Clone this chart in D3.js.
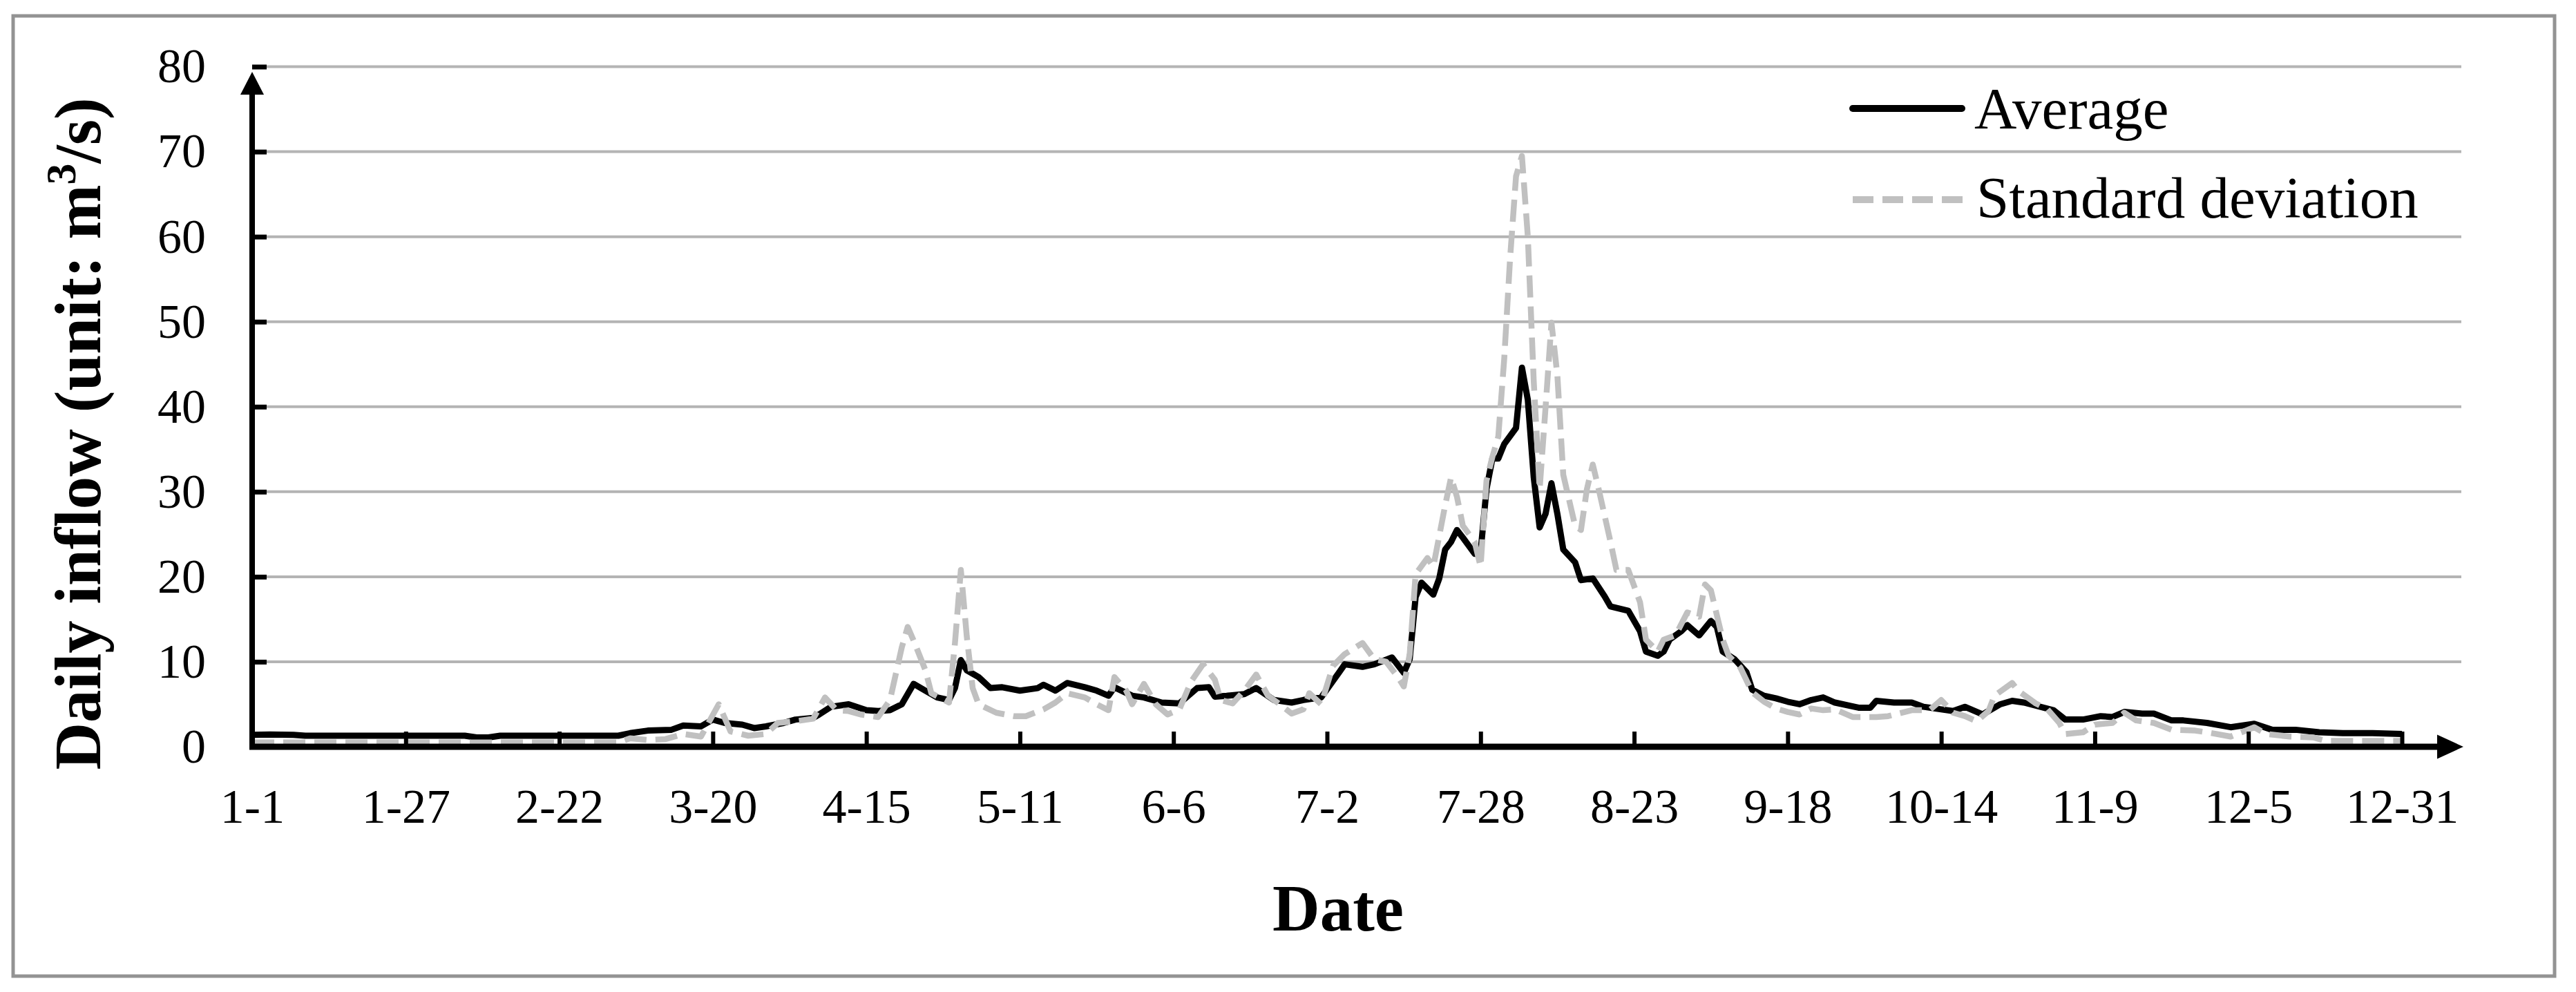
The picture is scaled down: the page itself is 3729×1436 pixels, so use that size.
<!DOCTYPE html>
<html>
<head>
<meta charset="utf-8">
<script src="https://cdn.jsdelivr.net/npm/d3@7"></script>
<style>
  html, body { margin: 0; padding: 0; background: #ffffff; }
  svg { display: block; }
  text { font-family: "Liberation Serif", "Times New Roman", serif; fill: #000; }
</style>
</head>
<body>
<svg id="chart" width="3729" height="1436"></svg>
<script>
// ---------------- DATA ----------------
const xTickDays   = [0, 26, 52, 78, 104, 130, 156, 182, 208, 234, 260, 286, 312, 338, 364];
const xTickLabels = ["1-1","1-27","2-22","3-20","4-15","5-11","6-6","7-2","7-28","8-23","9-18","10-14","11-9","12-5","12-31"];
const yTicks      = [0, 10, 20, 30, 40, 50, 60, 70, 80];

const avgDays = [0,3,7,9,20,30,36,38,40,42,50,56,62,64,67,71,73,76,78,80,83,85,87,90,92,95,96,98,101,104,106,108,110,112,114,116,118,119,120,121,123,125,127,130,133,134,136,138,141,143,145,146,149,151,154,157,160,162,163,165,168,170,173,176,178,181,184,185,188,190,193,195,196,197,198,200,201,202,203,204,205,207,208,209,210,211,212,214,215,216,217,218,219,220,221,222,224,225,227,229,230,233,235,236,238,239,240,242,243,245,247,248,249,251,253,254,256,258,260,262,264,266,268,272,274,275,278,281,283,286,288,290,293,296,298,300,305,307,310,313,315,317,320,322,325,327,331,335,339,342,346,350,354,359,364];
const avgValues = [1.4,1.45,1.4,1.3,1.3,1.3,1.3,1.1,1.1,1.3,1.3,1.3,1.3,1.6,1.9,2.0,2.5,2.4,3.2,2.8,2.6,2.2,2.4,2.8,3.2,3.4,3.8,4.7,5.0,4.3,4.2,4.3,5.0,7.4,6.6,5.8,5.5,6.9,10.2,9.0,8.2,6.9,7.0,6.6,6.9,7.3,6.6,7.5,7.0,6.6,6.0,7.0,6.0,5.8,5.2,5.1,6.9,7.0,5.9,6.0,6.2,6.9,5.5,5.2,5.5,5.8,8.7,9.7,9.4,9.7,10.5,8.7,10.3,17.6,19.3,17.9,19.8,23.2,24.1,25.5,24.6,22.7,22.9,30.3,33.9,33.9,35.6,37.5,44.6,40.8,31.7,25.8,27.4,31.0,27.4,23.2,21.7,19.6,19.8,17.7,16.5,16.0,13.6,11.2,10.7,11.2,12.6,13.6,14.3,13.1,14.8,14.1,11.2,10.3,8.8,6.7,6.0,5.7,5.3,5.0,5.5,5.8,5.2,4.6,4.6,5.4,5.2,5.2,4.7,4.4,4.2,4.7,3.8,5.0,5.4,5.2,4.3,3.2,3.2,3.6,3.5,4.1,3.9,3.9,3.1,3.1,2.8,2.3,2.7,2.0,2.0,1.7,1.6,1.6,1.5];

const sdDays = [0,10,20,30,40,50,62,64,67,70,73,76,79,81,84,87,89,92,95,97,99,101,103,106,108,110,111,112,114,115,118,119,120,121,122,123,126,129,131,134,136,138,141,143,145,146,148,149,151,153,155,157,159,161,163,164,166,168,170,172,174,176,178,179,181,183,185,188,190,192,194,195,196,197,199,200,202,203,204,205,207,208,209,210,211,212,213,214,215,216,217,218,219,220,221,222,224,225,226,227,228,230,231,233,235,236,238,239,241,243,245,246,247,249,250,252,254,256,258,260,262,264,266,268,271,275,277,281,284,286,288,290,292,294,295,298,299,302,304,306,307,310,312,315,317,319,322,325,329,331,335,339,341,345,349,351,355,359,364];
const sdValues = [0.5,0.5,0.5,0.5,0.5,0.5,0.5,1.0,0.8,0.9,1.5,1.2,5.0,1.8,1.3,1.5,2.8,3.0,3.3,5.8,4.3,4.2,3.8,3.5,5.5,11.7,14.1,12.5,9.0,6.3,5.2,12.2,20.8,13.0,6.9,5.0,4.0,3.6,3.6,4.4,5.2,6.3,5.8,5.0,4.3,8.2,6.6,5.0,7.4,5.0,3.8,4.4,7.7,9.7,7.9,5.5,5.1,6.6,8.5,6.0,5.0,3.9,4.4,6.3,5.0,9.5,10.9,12.2,10.3,10.0,8.2,7.1,10.9,20.3,22.2,21.2,28.4,31.7,29.4,26.0,24.1,21.2,31.3,34.1,36.5,45.6,57.5,67.1,69.5,60.0,43.0,30.3,39.9,49.9,43.7,32.0,26.0,25.5,30.3,33.2,30.3,24.1,20.8,20.8,17.0,12.6,11.2,12.6,13.1,15.8,15.3,19.1,18.4,12.6,10.7,9.3,6.4,5.3,4.5,4.1,3.8,4.5,4.3,4.4,3.5,3.5,3.6,4.3,4.3,5.5,4.0,3.6,3.0,4.2,6.0,7.5,6.6,5.1,4.4,2.8,1.5,1.7,2.6,2.8,4.0,3.1,2.8,2.0,1.9,1.7,1.2,2.3,1.5,1.2,1.1,0.7,0.7,0.7,0.7];

const seriesNames = ["Average", "Standard deviation"];

// ---------------- CHART ----------------
const svg = d3.select("#chart");
svg.append("rect").attr("x", 0).attr("y", 0).attr("width", 3729).attr("height", 1436).attr("fill", "#fff");

// outer frame
svg.append("rect")
  .attr("x", 19).attr("y", 23).attr("width", 3679).attr("height", 1390)
  .attr("fill", "none").attr("stroke", "#939393").attr("stroke-width", 5);

const x = d3.scaleLinear().domain([0, 364]).range([365, 3477]);
const y = d3.scaleLinear().domain([0, 80]).range([1081, 96.5]);
const gridEnd = 3563;

// gridlines
svg.append("g").selectAll("line")
  .data(yTicks.filter(v => v > 0))
  .join("line")
  .attr("x1", x(0)).attr("x2", gridEnd)
  .attr("y1", d => y(d)).attr("y2", d => y(d))
  .attr("stroke", "#b4b4b4").attr("stroke-width", 4);

// data lines
const avgData = avgDays.map((d, i) => [d, avgValues[i]]);
const sdData  = sdDays.map((d, i) => [d, sdValues[i]]);
const line = d3.line().x(d => x(d[0])).y(d => y(d[1]));

svg.append("path").datum(avgData)
  .attr("d", line).attr("fill", "none")
  .attr("stroke", "#000").attr("stroke-width", 9)
  .attr("stroke-linejoin", "round");

svg.append("path").datum(sdData)
  .attr("d", line).attr("fill", "none")
  .attr("stroke", "#c0c0c0").attr("stroke-width", 8.5)
  .attr("stroke-dasharray", "32,13")
  .attr("stroke-linejoin", "round");

// x axis
const xAxis = d3.axisBottom(x)
  .tickValues(xTickDays)
  .tickFormat((d, i) => xTickLabels[i])
  .tickSizeInner(-22).tickSizeOuter(0).tickPadding(60);
const gx = svg.append("g").attr("transform", `translate(0,${y(0)})`).call(xAxis);
gx.select(".domain").remove();
gx.selectAll(".tick line").attr("stroke", "#000").attr("stroke-width", 6);
gx.selectAll(".tick text").attr("font-size", 70).attr("font-family", "Liberation Serif");

// y axis
const yAxis = d3.axisLeft(y)
  .tickValues(yTicks)
  .tickFormat(d3.format("d"))
  .tickSizeInner(-21).tickSizeOuter(0).tickPadding(67);
const gy = svg.append("g").attr("transform", `translate(${x(0)},0)`).call(yAxis);
gy.select(".domain").remove();
gy.selectAll(".tick line").attr("stroke", "#000").attr("stroke-width", 7);
gy.selectAll(".tick text").attr("font-size", 70).attr("font-family", "Liberation Serif");

// axis lines with arrows
svg.append("line").attr("x1", x(0) - 4).attr("x2", 3532).attr("y1", y(0)).attr("y2", y(0))
  .attr("stroke", "#000").attr("stroke-width", 9);
svg.append("path")
  .attr("d", `M3528,${y(0) - 17.5}L3566,${y(0)}L3528,${y(0) + 17.5}Z`).attr("fill", "#000");
svg.append("line").attr("x1", x(0)).attr("x2", x(0)).attr("y1", y(0) + 4).attr("y2", 132)
  .attr("stroke", "#000").attr("stroke-width", 8);
svg.append("path")
  .attr("d", `M${x(0) - 17},137L${x(0)},104L${x(0) + 17},137Z`).attr("fill", "#000");

// axis titles
svg.append("text")
  .attr("x", 1937).attr("y", 1347)
  .attr("text-anchor", "middle").attr("font-size", 95).attr("font-weight", "bold")
  .text("Date");

const yt = svg.append("text")
  .attr("transform", "translate(145,628) rotate(-90)")
  .attr("text-anchor", "middle").attr("font-size", 95).attr("font-weight", "bold");
yt.append("tspan").text("Daily inflow (unit:  m");
yt.append("tspan").attr("font-size", 62).attr("dy", -36).text("3");
yt.append("tspan").attr("dy", 36).text("/s)");

// legend
const legend = svg.append("g");
legend.append("rect").attr("x", 2672).attr("y", 118).attr("width", 840).attr("height", 80).attr("fill", "#fff");
legend.append("rect").attr("x", 2672).attr("y", 245).attr("width", 840).attr("height", 85).attr("fill", "#fff");
legend.append("line").attr("x1", 2682).attr("x2", 2840).attr("y1", 157).attr("y2", 157)
  .attr("stroke", "#000").attr("stroke-width", 10).attr("stroke-linecap", "round");
legend.append("text").attr("x", 2858).attr("y", 186).attr("font-size", 85).text(seriesNames[0]);
legend.append("line").attr("x1", 2682).attr("x2", 2842).attr("y1", 289).attr("y2", 289)
  .attr("stroke", "#c0c0c0").attr("stroke-width", 10).attr("stroke-dasharray", "30,13");
legend.append("text").attr("x", 2861).attr("y", 315).attr("font-size", 85).text(seriesNames[1]);
</script>
</body>
</html>
